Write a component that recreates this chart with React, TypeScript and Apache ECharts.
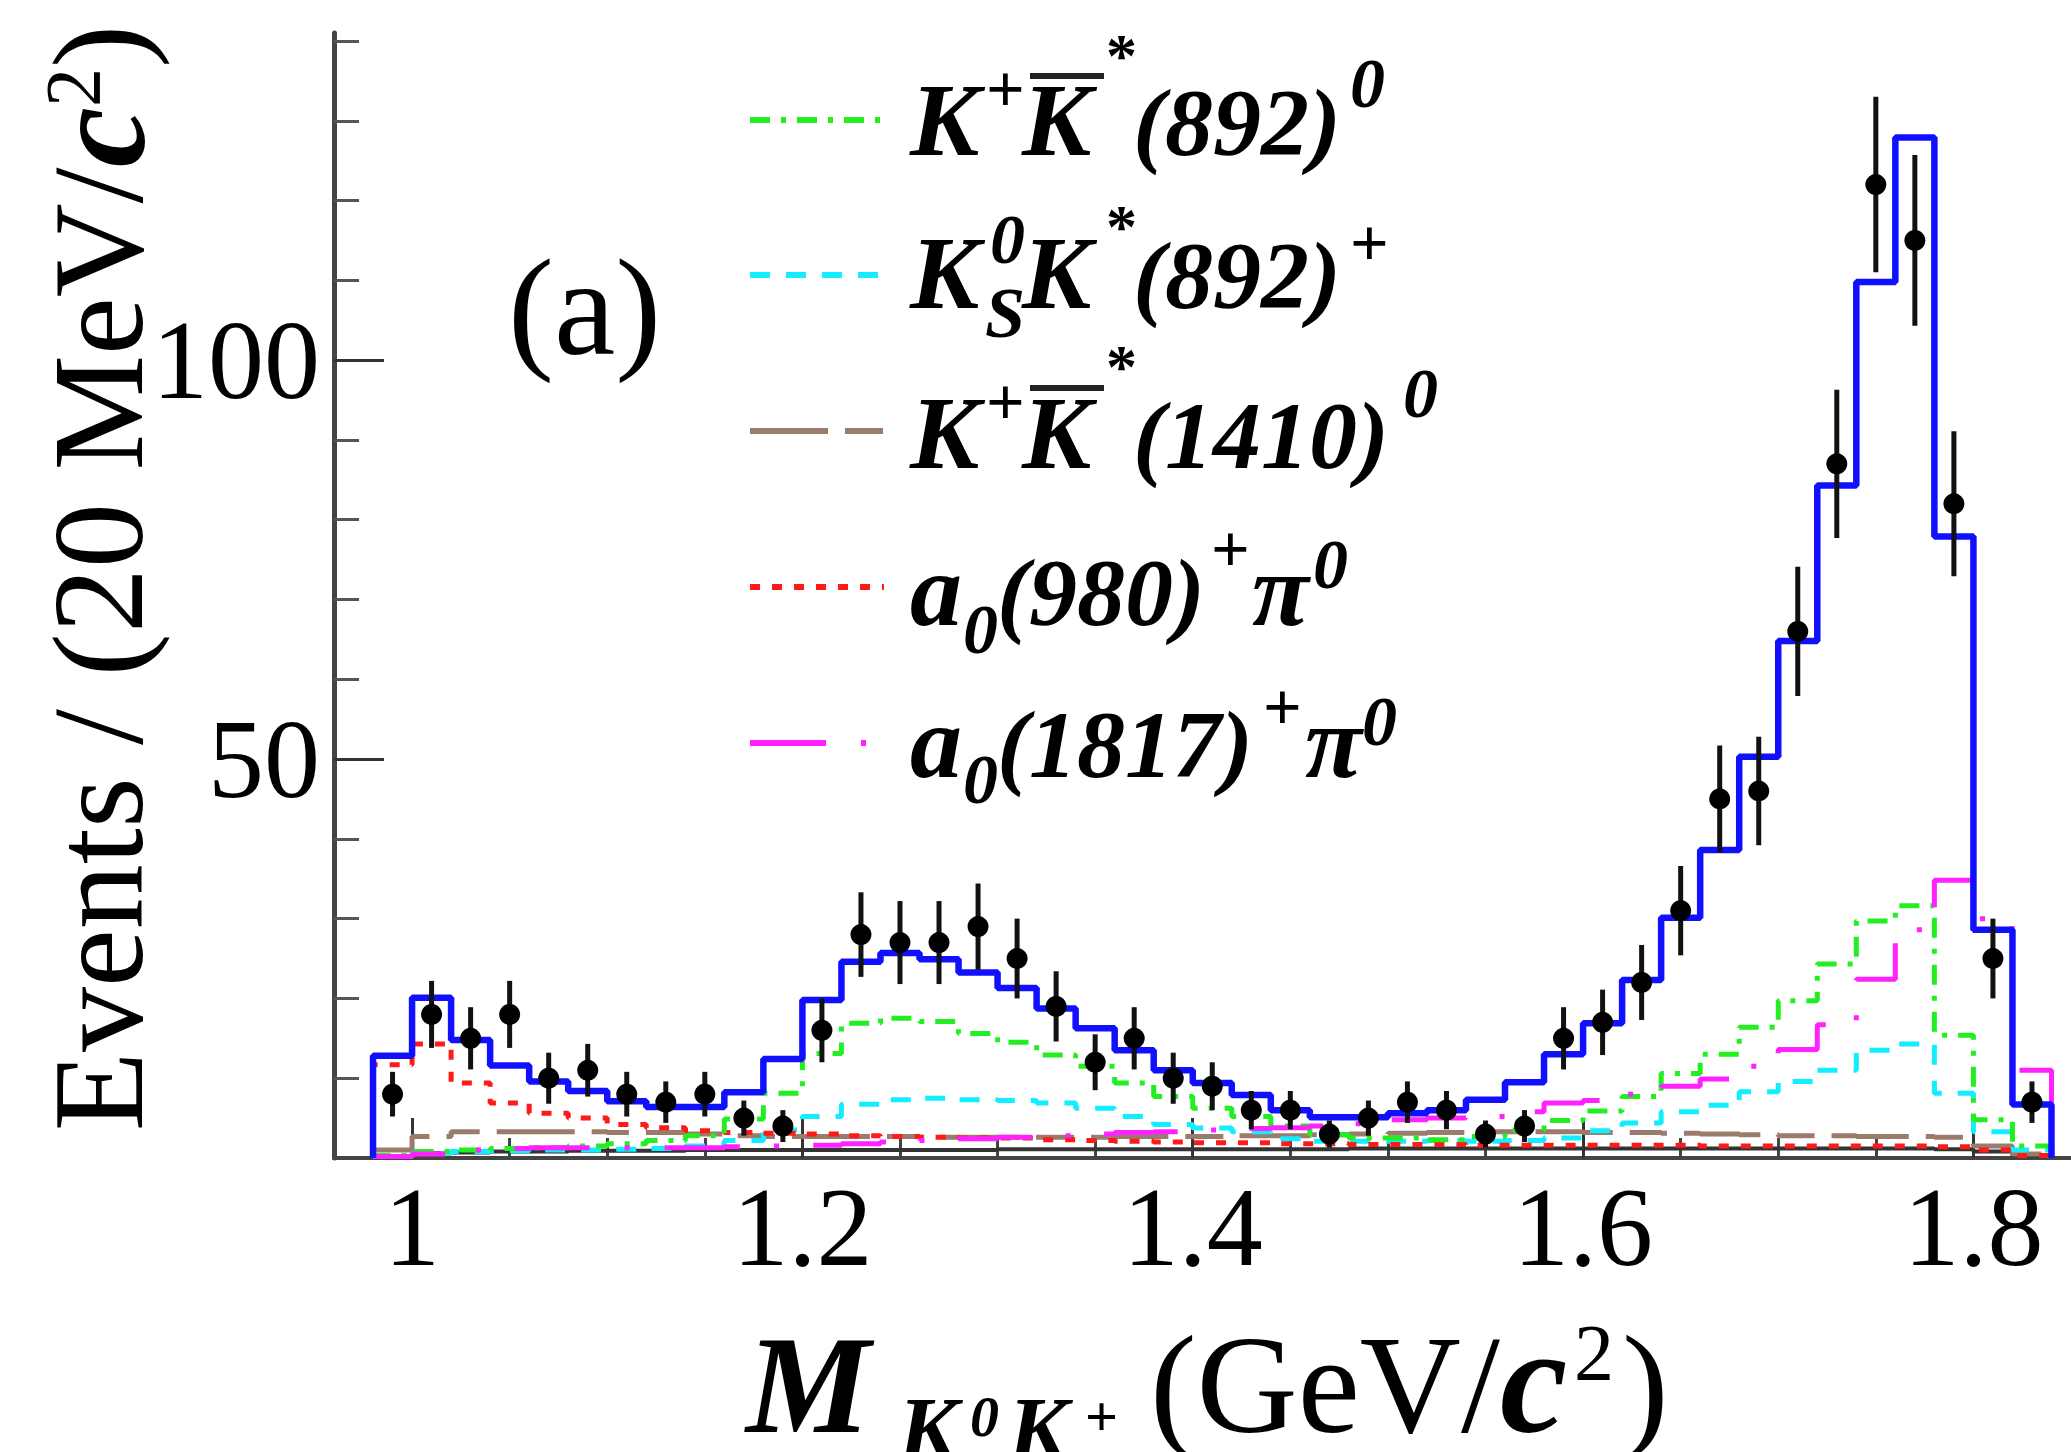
import React, { useEffect, useRef } from 'react';
import * as echarts from 'echarts';

// ---- data ----
const binCenters = [
  0.99, 1.01, 1.03, 1.05, 1.07, 1.09, 1.11, 1.13, 1.15, 1.17,
  1.19, 1.21, 1.23, 1.25, 1.27, 1.29, 1.31, 1.33, 1.35, 1.37,
  1.39, 1.41, 1.43, 1.45, 1.47, 1.49, 1.51, 1.53, 1.55, 1.57,
  1.59, 1.61, 1.63, 1.65, 1.67, 1.69, 1.71, 1.73, 1.75, 1.77,
  1.79, 1.81, 1.83,
];
const dataCounts = [
  8, 18, 15, 18, 10, 11, 8, 7, 8, 5,
  4, 16, 28, 27, 27, 29, 25, 19, 12, 15,
  10, 9, 6, 6, 3, 5, 7, 6, 3, 4,
  15, 17, 22, 31, 45, 46, 66, 87, 122, 115,
  82, 25, 7,
];
const dataErrors = [
  2.8, 4.2, 3.9, 4.2, 3.2, 3.3, 2.8, 2.6, 2.8, 2.2,
  2.0, 4.0, 5.3, 5.2, 5.2, 5.4, 5.0, 4.4, 3.5, 3.9,
  3.2, 3.0, 2.4, 2.4, 1.7, 2.2, 2.6, 2.4, 1.7, 2.0,
  3.9, 4.1, 4.7, 5.6, 6.7, 6.8, 8.1, 9.3, 11.0, 10.7,
  9.1, 5.0, 2.6,
];
const totalFit = [
  12.8, 20.1, 14.8, 11.6, 9.6, 8.4, 7.1, 6.4, 6.4, 8.25,
  12.4, 19.8, 24.6, 25.7, 24.9, 23.25, 21.3, 18.75, 16.25, 13.5,
  11.0, 9.4, 7.9, 6.0, 5.1, 5.1, 5.6, 6.0, 7.3, 9.5,
  13.0, 16.9, 22.3, 30.1, 38.6, 50.3, 64.8, 84.3, 109.8, 127.9,
  77.9, 28.6, 6.7,
];
const kpKstarBar892 = [
  0.3, 0.8, 1.0, 1.2, 1.3, 1.5, 1.8, 2.2, 2.8, 4.9,
  8.1, 13.1, 16.9, 17.5, 17.1, 15.6, 14.5, 12.9, 11.5, 9.4,
  7.7, 6.25, 5.2, 4.0, 2.9, 2.5, 2.5, 2.3, 2.7, 3.5,
  4.7, 5.9, 7.7, 10.6, 13.0, 16.4, 19.7, 24.3, 29.7, 31.6,
  15.4, 4.8, 1.5,
];
const ksKstar892 = [
  0.2, 0.6, 0.8, 0.9, 1.0, 1.0, 1.1, 1.2, 1.5, 2.2,
  3.5, 5.2, 6.75, 7.3, 7.5, 7.3, 7.2, 6.9, 6.25, 5.2,
  4.2, 3.75, 3.3, 2.4, 2.1, 2.1, 2.1, 2.2, 2.1, 2.2,
  2.5, 3.4, 4.4, 5.8, 6.6, 8.3, 9.6, 11.0, 13.5, 14.3,
  8.1, 3.3, 1.0,
];
const kpKstarBar1410 = [
  1.0, 2.7, 3.3, 3.3, 3.3, 3.3, 3.2, 3.2, 3.0, 2.8,
  2.7, 2.7, 2.7, 2.7, 2.6, 2.6, 2.6, 2.6, 2.6, 2.7,
  2.7, 2.7, 2.8, 2.8, 2.9, 3.0, 3.1, 3.2, 3.3, 3.3,
  3.3, 3.2, 3.2, 3.1, 3.0, 2.9, 2.8, 2.8, 2.7, 2.7,
  2.6, 1.5, 0.5,
];
const a0980Pi0 = [
  11.7, 14.3, 9.4, 6.9, 5.6, 5.0, 4.2, 3.8, 3.4, 3.2,
  3.1, 3.0, 2.8, 2.7, 2.6, 2.5, 2.5, 2.3, 2.2, 2.1,
  2.0, 1.9, 1.9, 1.8, 1.8, 1.7, 1.7, 1.7, 1.6, 1.6,
  1.6, 1.6, 1.6, 1.6, 1.5, 1.5, 1.5, 1.5, 1.5, 1.5,
  1.4, 1.0, 0.3,
];
const a01817Pi0 = [
  0.2, 0.5, 1.0, 1.2, 1.3, 1.3, 1.3, 1.3, 1.3, 1.4,
  1.5, 1.6, 1.8, 2.0, 2.2, 2.4, 2.6, 2.8, 3.0, 3.2,
  3.3, 3.5, 3.7, 3.8, 4.0, 4.3, 4.8, 5.0, 5.2, 5.8,
  6.9, 7.2, 8.0, 9.0, 9.9, 11.5, 13.6, 16.7, 22.4, 28.6,
  34.8, 30.0, 11.0,
];
const otherBkg = [
  0.2, 0.6, 0.7, 0.8, 0.8, 0.9, 0.9, 0.9, 1.0, 1.0,
  1.0, 1.0, 1.0, 1.0, 1.0, 1.0, 1.1, 1.1, 1.1, 1.1,
  1.1, 1.1, 1.1, 1.1, 1.1, 1.2, 1.2, 1.2, 1.2, 1.2,
  1.2, 1.2, 1.2, 1.2, 1.2, 1.2, 1.2, 1.2, 1.2, 1.2,
  1.1, 0.8, 0.3,
];
const xTickValues = [1.0, 1.2, 1.4, 1.6, 1.8];
const yTickValues = [50, 100];
const BIN_HALF = 0.01;

const SERIF = "'Liberation Serif', 'Times New Roman', serif";

const C_BLUE = '#1010ff';
const C_GREEN = '#22ee22';
const C_CYAN = '#11eeff';
const C_BROWN = '#9b7b6b';
const C_RED = '#ff1a1a';
const C_MAGENTA = '#ff22ff';

const DASH_GREEN = [20, 11, 5, 11];
const DASH_CYAN = [20, 16];
const DASH_BROWN = [78, 17, 38, 17];
const DASH_RED = [10, 12];
const DASH_MAGENTA = [76, 35, 5, 35];

function histData(vals: number[]) {
  const d: number[][] = [[+(binCenters[0] - BIN_HALF).toFixed(3), 0]];
  vals.forEach((v, i) => d.push([+(binCenters[i] - BIN_HALF).toFixed(3), v]));
  d.push([+(binCenters[binCenters.length - 1] + BIN_HALF).toFixed(3), 0]);
  return d;
}

function histSeries(name: string, vals: number[], color: string, type: any, width: number, z: number) {
  return {
    name,
    type: 'line',
    step: 'end',
    data: histData(vals),
    showSymbol: false,
    symbol: 'none',
    lineStyle: { color, width, type },
    z,
    silent: true,
  };
}

type Piece = [string, number, number, number, boolean, boolean];
// text, x(left), baseline, size, bold, italic
function txt(p: Piece) {
  const [text, x, base, size, bold, italic] = p;
  return {
    type: 'text',
    x,
    y: base - 0.3375 * size,
    silent: true,
    style: {
      text,
      fontSize: size,
      fontFamily: SERIF,
      fontWeight: bold ? 'bold' : 'normal',
      fontStyle: italic ? 'italic' : 'normal',
      fill: '#000',
      textAlign: 'left',
      verticalAlign: 'middle',
      textVerticalAlign: 'middle',
    },
  };
}

function hline(x1: number, x2: number, y: number, color: string, width: number, dash?: number[]) {
  return {
    type: 'line',
    silent: true,
    shape: { x1, y1: y, x2, y2: y },
    style: { stroke: color, lineWidth: width, lineDash: dash || null },
  };
}

const legendPieces: Piece[] = [
  // row 1
  ['K', 910, 155, 104, true, true],
  ['+', 986, 112, 68, true, false],
  ['K', 1022, 155, 104, true, true],
  ['*', 1106, 76, 62, true, false],
  ['(892)', 1133, 155, 96, true, true],
  ['0', 1350, 107, 70, true, true],
  // row 2
  ['K', 910, 308, 104, true, true],
  ['0', 990, 263, 70, true, true],
  ['S', 985, 337, 72, true, true],
  ['K', 1022, 308, 104, true, true],
  ['*', 1106, 247, 62, true, false],
  ['(892)', 1133, 308, 96, true, true],
  ['+', 1350, 266, 68, true, false],
  // row 3
  ['K', 910, 468, 104, true, true],
  ['+', 986, 425, 68, true, false],
  ['K', 1022, 468, 104, true, true],
  ['*', 1106, 387, 62, true, false],
  ['(1410)', 1133, 468, 96, true, true],
  ['0', 1403, 417, 70, true, true],
  // row 4
  ['a', 910, 625, 104, true, true],
  ['0', 963, 653, 70, true, true],
  ['(980)', 997, 625, 96, true, true],
  ['+', 1211, 572, 68, true, false],
  ['π', 1252, 625, 104, true, true],
  ['0', 1313, 588, 70, true, true],
  // row 5
  ['a', 910, 777, 104, true, true],
  ['0', 963, 803, 70, true, true],
  ['(1817)', 997, 777, 96, true, true],
  ['+', 1263, 730, 68, true, false],
  ['π', 1305, 777, 104, true, true],
  ['0', 1362, 745, 70, true, true],
];

const xTitlePieces: Piece[] = [
  ['M', 746, 1432, 140, true, true],
  ['K', 898, 1460, 90, true, true],
  ['0', 970, 1436, 58, true, true],
  ['K', 1008, 1460, 90, true, true],
  ['+', 1085, 1436, 58, true, false],
  ['(GeV/', 1150, 1432, 140, false, false],
  ['c', 1500, 1432, 152, true, true],
  ['2', 1574, 1380, 80, false, false],
  [')', 1622, 1432, 140, false, false],
];

export default function App() {
  const ref = useRef<HTMLDivElement>(null);
  useEffect(() => {
    if (!ref.current) return;
    const chart = echarts.init(ref.current, null, { renderer: 'svg' });

    const graphic: any[] = [];
    // legend samples
    graphic.push(hline(750, 884, 120, C_GREEN, 6, DASH_GREEN));
    graphic.push(hline(750, 884, 275, C_CYAN, 6, DASH_CYAN));
    graphic.push(hline(750, 884, 431, C_BROWN, 6, DASH_BROWN));
    graphic.push(hline(750, 884, 587, C_RED, 6, DASH_RED));
    graphic.push(hline(750, 884, 743, C_MAGENTA, 6, DASH_MAGENTA));
    // overbars on anti-K
    graphic.push(hline(1030, 1104, 76, '#222', 6));
    graphic.push(hline(1030, 1104, 388, '#222', 6));
    legendPieces.forEach((p) => graphic.push(txt(p)));
    xTitlePieces.forEach((p) => graphic.push(txt(p)));
    graphic.push(txt(['(a)', 508, 354, 138, false, false]));
    // y axis title (rotated)
    graphic.push({
      type: 'text',
      x: 98,
      y: 578,
      rotation: Math.PI / 2,
      silent: true,
      style: {
        text: '{n|Events / (20 MeV/}{c|c}{s|2}{n|)}',
        textAlign: 'center',
        verticalAlign: 'middle',
        textVerticalAlign: 'middle',
        fill: '#000',
        rich: {
          n: { fontSize: 130, fontFamily: SERIF, fill: '#000', lineHeight: 130 },
          c: { fontSize: 136, fontFamily: SERIF, fontWeight: 'bold', fontStyle: 'italic', fill: '#000', lineHeight: 130 },
          s: { fontSize: 78, fontFamily: SERIF, fill: '#000', lineHeight: 78, verticalAlign: 'top' },
        },
      },
    });

    const option: any = {
      animation: false,
      backgroundColor: '#ffffff',
      grid: { left: 334, right: 0, top: 33, bottom: 294, containLabel: false },
      xAxis: {
        type: 'value',
        min: 0.96,
        max: 1.85,
        axisLine: { show: true, lineStyle: { color: '#444', width: 4 } },
        axisTick: { show: true, inside: true, length: 40, customValues: xTickValues, lineStyle: { color: '#333', width: 3 } },
        minorTick: { show: true, splitNumber: 4, length: 20, lineStyle: { color: '#444', width: 3 } },
        axisLabel: { customValues: xTickValues, margin: 13, fontFamily: SERIF, fontSize: 112, color: '#000' },
        splitLine: { show: false },
        minorSplitLine: { show: false },
      },
      yAxis: {
        type: 'value',
        min: 0,
        max: 141,
        interval: 50,
        axisLine: { show: true, lineStyle: { color: '#444', width: 5 } },
        axisTick: { show: true, inside: true, length: 50, customValues: yTickValues, lineStyle: { color: '#333', width: 3 } },
        minorTick: { show: true, splitNumber: 5, length: 25, lineStyle: { color: '#555', width: 3 } },
        axisLabel: { customValues: yTickValues, margin: 14, fontFamily: SERIF, fontSize: 112, color: '#000' },
        splitLine: { show: false },
        minorSplitLine: { show: false },
      },
      series: [
        histSeries('other', otherBkg, '#333333', 'solid', 4, 1),
        histSeries('K+K*bar(1410)0', kpKstarBar1410, C_BROWN, DASH_BROWN, 5, 2),
        histSeries('KsK*(892)+', ksKstar892, C_CYAN, DASH_CYAN, 5, 2),
        histSeries('a0(980)+pi0', a0980Pi0, C_RED, DASH_RED, 5, 2),
        histSeries('K+K*bar(892)0', kpKstarBar892, C_GREEN, DASH_GREEN, 5, 2),
        histSeries('a0(1817)+pi0', a01817Pi0, C_MAGENTA, DASH_MAGENTA, 5, 2),
        histSeries('total', totalFit, C_BLUE, 'solid', 6.5, 3),
        {
          name: 'errors',
          type: 'custom',
          data: binCenters.map((c, i) => [c, dataCounts[i] - dataErrors[i], dataCounts[i] + dataErrors[i]]),
          encode: { x: 0, y: [1, 2] },
          renderItem: (params: any, api: any) => {
            const x = api.value(0);
            const lo = api.coord([x, api.value(1)]);
            const hi = api.coord([x, api.value(2)]);
            return {
              type: 'line',
              shape: { x1: lo[0], y1: lo[1], x2: hi[0], y2: hi[1] },
              style: { stroke: '#111', lineWidth: 5 },
            };
          },
          z: 5,
          silent: true,
        },
        {
          name: 'data',
          type: 'scatter',
          data: binCenters.map((c, i) => [c, dataCounts[i]]),
          symbol: 'circle',
          symbolSize: 21,
          itemStyle: { color: '#000', opacity: 1 },
          z: 6,
          silent: true,
        },
      ],
      graphic,
    };
    chart.setOption(option);
    return () => chart.dispose();
  }, []);

  return (
    <div
      ref={ref}
      style={{ position: 'absolute', left: 0, top: 0, width: 2071, height: 1452, background: '#fff' }}
    />
  );
}
